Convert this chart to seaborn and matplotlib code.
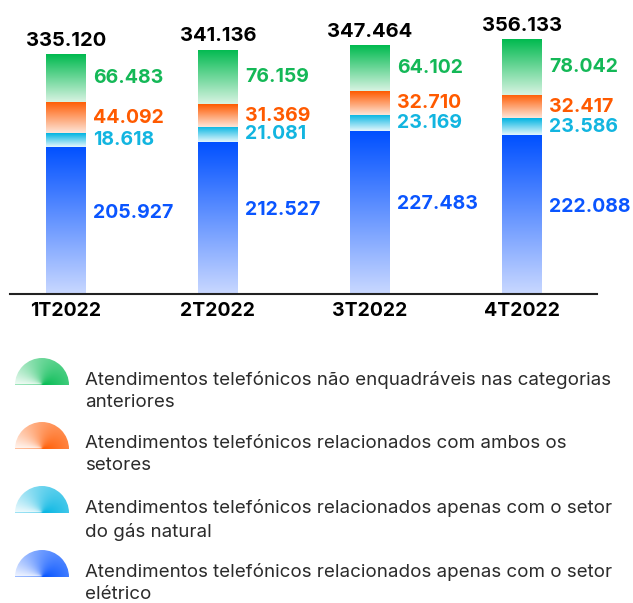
import numpy as np
import matplotlib
matplotlib.use("Agg")
import matplotlib.pyplot as plt
import seaborn as sns
from matplotlib.colors import to_rgb
from matplotlib.patches import Wedge

quarters = ["1T2022", "2T2022", "3T2022", "4T2022"]
eletrico = [205.927, 212.527, 227.483, 222.088]
gas_natural = [18.618, 21.081, 23.169, 23.586]
ambos = [44.092, 31.369, 32.710, 32.417]
outros = [66.483, 76.159, 64.102, 78.042]
totals = [335.120, 341.136, 347.464, 356.133]

# legend goes top -> bottom (green, orange, cyan, blue)
legend_labels = [
    "Atendimentos telefónicos não enquadráveis nas categorias\nanteriores",
    "Atendimentos telefónicos relacionados com ambos os\nsetores",
    "Atendimentos telefónicos relacionados apenas com o setor\ndo gás natural",
    "Atendimentos telefónicos relacionados apenas com o setor\nelétrico",
]

# bottom -> top
series = [eletrico, gas_natural, ambos, outros]
colors = ["#0050ff", "#00b4e2", "#ff5a00", "#00ba4f"]
light = ["#c9d8ff", "#e6f7fc", "#fde6da", "#d8f3e2"]
text_colors = ["#0a55ff", "#12b5e0", "#ff5a00", "#14b857"]

sns.set_theme(style="white")
plt.rcParams["font.family"] = ["Inter", "DejaVu Sans"]


def fmt(v):
    return f"{v:.3f}"


def gradient_img(top, bottom, n=256):
    t = np.linspace(0, 1, n)[:, None]
    c0 = np.array(to_rgb(top))
    c1 = np.array(to_rgb(bottom))
    img = c0 * (1 - t) + c1 * t
    return img[:, None, :].repeat(2, axis=1)


fig = plt.figure(figsize=(6.33, 6.03), dpi=100)
ax = fig.add_axes([10 / 633, 309 / 603, 587 / 633, 284 / 603])

x = np.arange(len(quarters))
width = 0.257
bottom = np.zeros(len(quarters))
for vals, c, lc, tc in zip(series, colors, light, text_colors):
    bars = ax.bar(x, vals, width=width, bottom=bottom, color="none", edgecolor="none")
    # vertical gradient inside every bar segment
    for b in bars:
        x0, y0 = b.get_x(), b.get_y()
        im = ax.imshow(gradient_img(c, lc), extent=[x0, x0 + b.get_width(), y0, y0 + b.get_height()],
                       aspect="auto", origin="upper", zorder=2, interpolation="bilinear")
        im.set_clip_path(b)
    frac = 0.55 if c == colors[0] else 0.5
    for xi, bi, v in zip(x, bottom, vals):
        ax.text(xi + width / 2 + 0.05, bi + v * frac, fmt(v), color=tc,
                fontsize=14, fontweight="bold", va="center", ha="left")
    bottom += np.array(vals)

for xi, t in zip(x, totals):
    ax.text(xi, t + 19, fmt(t), color="black", fontsize=14.5, fontweight="bold",
            ha="center", va="center")

ax.set_xlim(-0.368, 3.494)
ax.set_ylim(0, 397)
ax.set_xticks(x)
ax.set_xticklabels(quarters, fontsize=14, fontweight="bold", color="black")
ax.tick_params(axis="x", length=0, pad=6)
ax.set_yticks([])
sns.despine(ax=ax, left=True)
ax.spines["bottom"].set_color("#222222")
ax.spines["bottom"].set_linewidth(1.5)

# legend with half-disc gradient icons
lax = fig.add_axes([0, 0, 1, 260 / 603])
lax.set_xlim(0, 633)
lax.set_ylim(260, 0)
lax.axis("off")
for i, (lab, c) in enumerate(zip(legend_labels, colors[::-1])):
    cy = 42 + i * 64
    cx = 42
    r = 27
    w = Wedge((cx, cy), r, 180, 360, facecolor="none", edgecolor="none")
    lax.add_patch(w)
    gx, gy = np.meshgrid(np.linspace(-1, 1, 120), np.linspace(-1, 0, 60))
    ang = np.arctan2(-gy, gx)  # 0 at right, pi at left
    t = np.clip(ang / np.pi, 0, 1) ** 1.6
    base = np.array(to_rgb(c))
    img = base * (1 - t[..., None] * 0.95) + np.ones(3) * t[..., None] * 0.95
    # soften towards the rim
    rad = np.sqrt(gx ** 2 + gy ** 2)
    k = 0.25 * rad[..., None] * (1 - t[..., None])
    img = img * (1 - k) + k
    im = lax.imshow(img, extent=[cx - r, cx + r, cy, cy - r], origin="upper",
                    aspect="auto", interpolation="bilinear")
    im.set_clip_path(w)
    lax.text(85, cy - 14, lab, fontsize=13.5, color="#2b2b2b", va="top", ha="left",
             linespacing=1.42)

fig.savefig("out.png", dpi=100)
plt.close(fig)
